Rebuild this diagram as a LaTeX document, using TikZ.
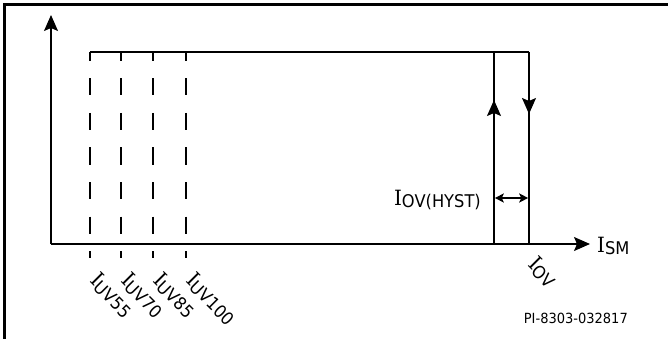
\documentclass[tikz,border=0pt]{standalone}
\usepackage{fontspec}
\setmainfont[FakeStretch=0.93]{DejaVu Sans}
\newfontfamily\serifI[FakeStretch=0.95]{DejaVu Serif}
\usetikzlibrary{arrows.meta}
\newcommand\curlbl[1]{{\fontsize{21}{21}\selectfont\serifI I}\raisebox{-2.5pt}{\fontsize{17.5}{17.5}\selectfont #1}}
\begin{document}
\begin{tikzpicture}[x=1pt,y=-1pt,
  axis/.style={line width=1.5pt},
  frame/.style={line width=2.5pt},
  bigtip/.style={-{Stealth[length=16pt,width=14pt,inset=3pt]}},
  smalltip/.style={{Stealth[length=9pt,width=9pt,inset=2pt]}-{Stealth[length=9pt,width=9pt,inset=2pt]}},
  dashline/.style={line width=1.8pt, dash pattern=on 17pt off 17.5pt, dash phase=8pt},
  rotlbl/.style={rotate=-45, anchor=base west, inner sep=0pt},
  txt/.style={inner sep=0pt},
  ]
\useasboundingbox (0,0) rectangle (668,339);
% frame
\draw[frame] (4.5,339) -- (4.5,4.7) -- (668,4.7);
% axes
\coordinate (O) at (51,244);
\coordinate (Ytip) at (51,15);
\coordinate (Xtip) at (590,244);
\draw[axis,bigtip] (O) -- (Ytip);
\draw[axis,bigtip] (O) -- (Xtip);
% characteristic
\coordinate (T0) at (90,52);
\coordinate (T1) at (494,52);
\coordinate (T2) at (529,52);
\coordinate (B1) at (494,244);
\coordinate (B2) at (529,244);
\coordinate (U1) at (494,100);
\coordinate (D2) at (529,114);
\draw[axis] (T0) -- (T2);
\draw[axis] (B1) -- (T1);
\draw[axis] (T2) -- (B2);
\draw[axis,bigtip] (B1) -- (U1);
\draw[axis,bigtip] (T2) -- (D2);
% hysteresis arrow
\coordinate (H1) at (494.8,198);
\coordinate (H2) at (528.2,198);
\draw[axis,smalltip] (H1) -- (H2);
% dashed thresholds
\foreach \i/\x in {a/90,b/121,c/153,d/186}{
  \coordinate (\i top) at (\x,52);
  \coordinate (\i bot) at (\x,258);
  \draw[dashline] (\i top) -- (\i bot);
}
% labels
\node[rotlbl] (uv55) at (89,281) {\curlbl{UV55}};
\node[rotlbl] (uv70) at (120,281) {\curlbl{UV70}};
\node[rotlbl] (uv85) at (152,281) {\curlbl{UV85}};
\node[rotlbl] (uv100) at (185,281) {\curlbl{UV100}};
\node[rotlbl] (iov) at (527,265) {\curlbl{OV}};
\node[txt,anchor=base east] (hyst) at (481,205) {\curlbl{OV(HYST)}};
\node[txt,anchor=base west] (ism) at (597,252) {\curlbl{SM}};
\node[txt,anchor=base east,font=\fontsize{14}{14}\selectfont] (pi) at (628,323) {PI-8303-032817};
\end{tikzpicture}
\end{document}
